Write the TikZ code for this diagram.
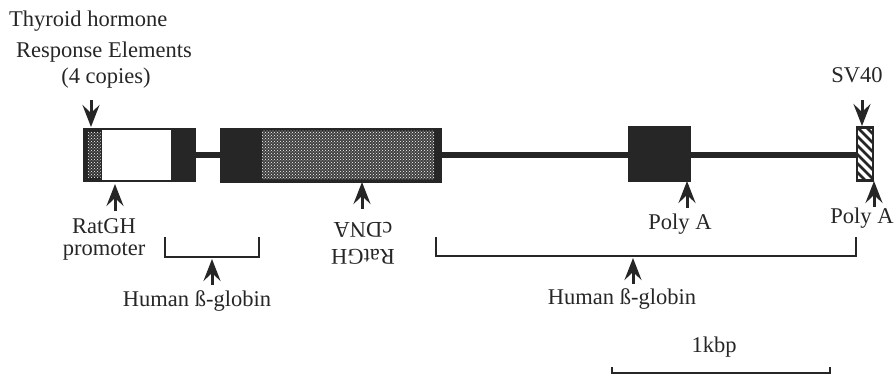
\documentclass[tikz,border=0pt]{standalone}
\usepackage{fontspec}
\setmainfont{Liberation Serif}
\usetikzlibrary{arrows.meta,patterns}
\begin{document}
\begin{tikzpicture}[x=1pt,y=-1pt,
  lbl/.style={font=\fontsize{22.5}{22}\selectfont, inner sep=0pt, align=center, text=black!85},
  ptr/.style={line width=3pt, draw=black!85, -{Stealth[length=22pt,width=17pt,inset=8pt]}},
  dna/.style={line width=5pt, draw=black!85},
  brk/.style={line width=1.8pt, draw=black!85},
  blk/.style={fill=black!85, draw=none, inner sep=0pt, outer sep=0pt},
  dots/.style={fill=black!75, draw=none, inner sep=0pt, outer sep=0pt},
  blank/.style={fill=white, draw=none, inner sep=0pt, outer sep=0pt},
]
\useasboundingbox (0,0) rectangle (894,377);
% boxes
\node[blk, minimum width=113pt, minimum height=54pt] (b1) at (139.5,155) {};
\node[dots, fill=black!80, minimum width=13pt, minimum height=45pt] (s1) at (94,154.5) {};
\fill[pattern=crosshatch dots, pattern color=white] (s1.south west) rectangle (s1.north east);
\node[blank, minimum width=69pt, minimum height=50pt] (w1) at (136.5,155) {};
\node[blk, minimum width=222pt, minimum height=55pt] (b2) at (331,155.5) {};
\node[dots, minimum width=172pt, minimum height=48pt] (s2) at (348,155) {};
\fill[pattern=crosshatch dots, pattern color=white] (s2.south west) rectangle (s2.north east);
\node[blk, minimum width=63pt, minimum height=55pt] (b3) at (659.5,154) {};
\node[draw=black!85, line width=2.5pt, fill=white, inner sep=0pt, minimum width=16pt, minimum height=53pt] (b4) at (865,154) {};
\begin{scope}
  \clip (857,127) rectangle (873,181);
  \foreach \k in {-3,...,8} {
    \draw[line width=2.6pt, black!85] (850,120+\k*9) -- (880,150+\k*9);
  }
\end{scope}
% backbone
\draw[dna] (b1.east |- 0,155) -- (b2.west |- 0,155);
\draw[dna] (b2.east |- 0,155) -- (b3.west |- 0,155);
\draw[dna] (b3.east |- 0,155) -- (b4.west |- 0,155);
% labels
\node[lbl, anchor=west] (tre1) at (9,21) {Thyroid hormone};
\node[lbl] (tre2) at (104,52) {Response Elements};
\node[lbl] (tre3) at (106,78) {(4 copies)};
\node[lbl] (prom) at (104,239) {RatGH\\promoter};
\node[lbl, rotate=180, font=\fontsize{22.5}{27}\selectfont] (cdna) at (363,243) {RatGH\\cDNA};
\node[lbl] (hbg1) at (197,301) {Human ß-globin};
\node[lbl] (hbg2) at (622,299) {Human ß-globin};
\node[lbl] (pa1) at (680,224) {Poly A};
\node[lbl] (pa2) at (862,218) {Poly A};
\node[lbl] (sv) at (857,75) {SV40};
\node[lbl] (kbp) at (714,347) {1kbp};
% arrow ends
\coordinate (a1) at (91,100);
\coordinate (a1t) at (91,127);
\coordinate (a2) at (115,211);
\coordinate (a2t) at (115,184);
\coordinate (a3) at (212,285);
\coordinate (a3t) at (212,259);
\coordinate (a4) at (362,209);
\coordinate (a4t) at (362,182);
\coordinate (a5) at (687,208);
\coordinate (a5t) at (687,181);
\coordinate (a6) at (874,207);
\coordinate (a6t) at (874,181);
\coordinate (a7) at (862,100);
\coordinate (a7t) at (862,126);
\coordinate (a8) at (633,284);
\coordinate (a8t) at (633,258);
\draw[ptr] (a1) -- (a1t);
\draw[ptr] (a2) -- (a2t);
\draw[ptr] (a3) -- (a3t);
\draw[ptr] (a4) -- (a4t);
\draw[ptr] (a5) -- (a5t);
\draw[ptr] (a6) -- (a6t);
\draw[ptr] (a7) -- (a7t);
\draw[ptr] (a8) -- (a8t);
% brackets
\draw[brk] (165,237) -- (165,257) -- (259,257) -- (259,237);
\draw[brk] (436,237) -- (436,256) -- (856,256) -- (856,237);
% scale bar
\draw[brk] (612,367) -- (612,373) -- (830,373) -- (830,367);
\end{tikzpicture}
\end{document}
